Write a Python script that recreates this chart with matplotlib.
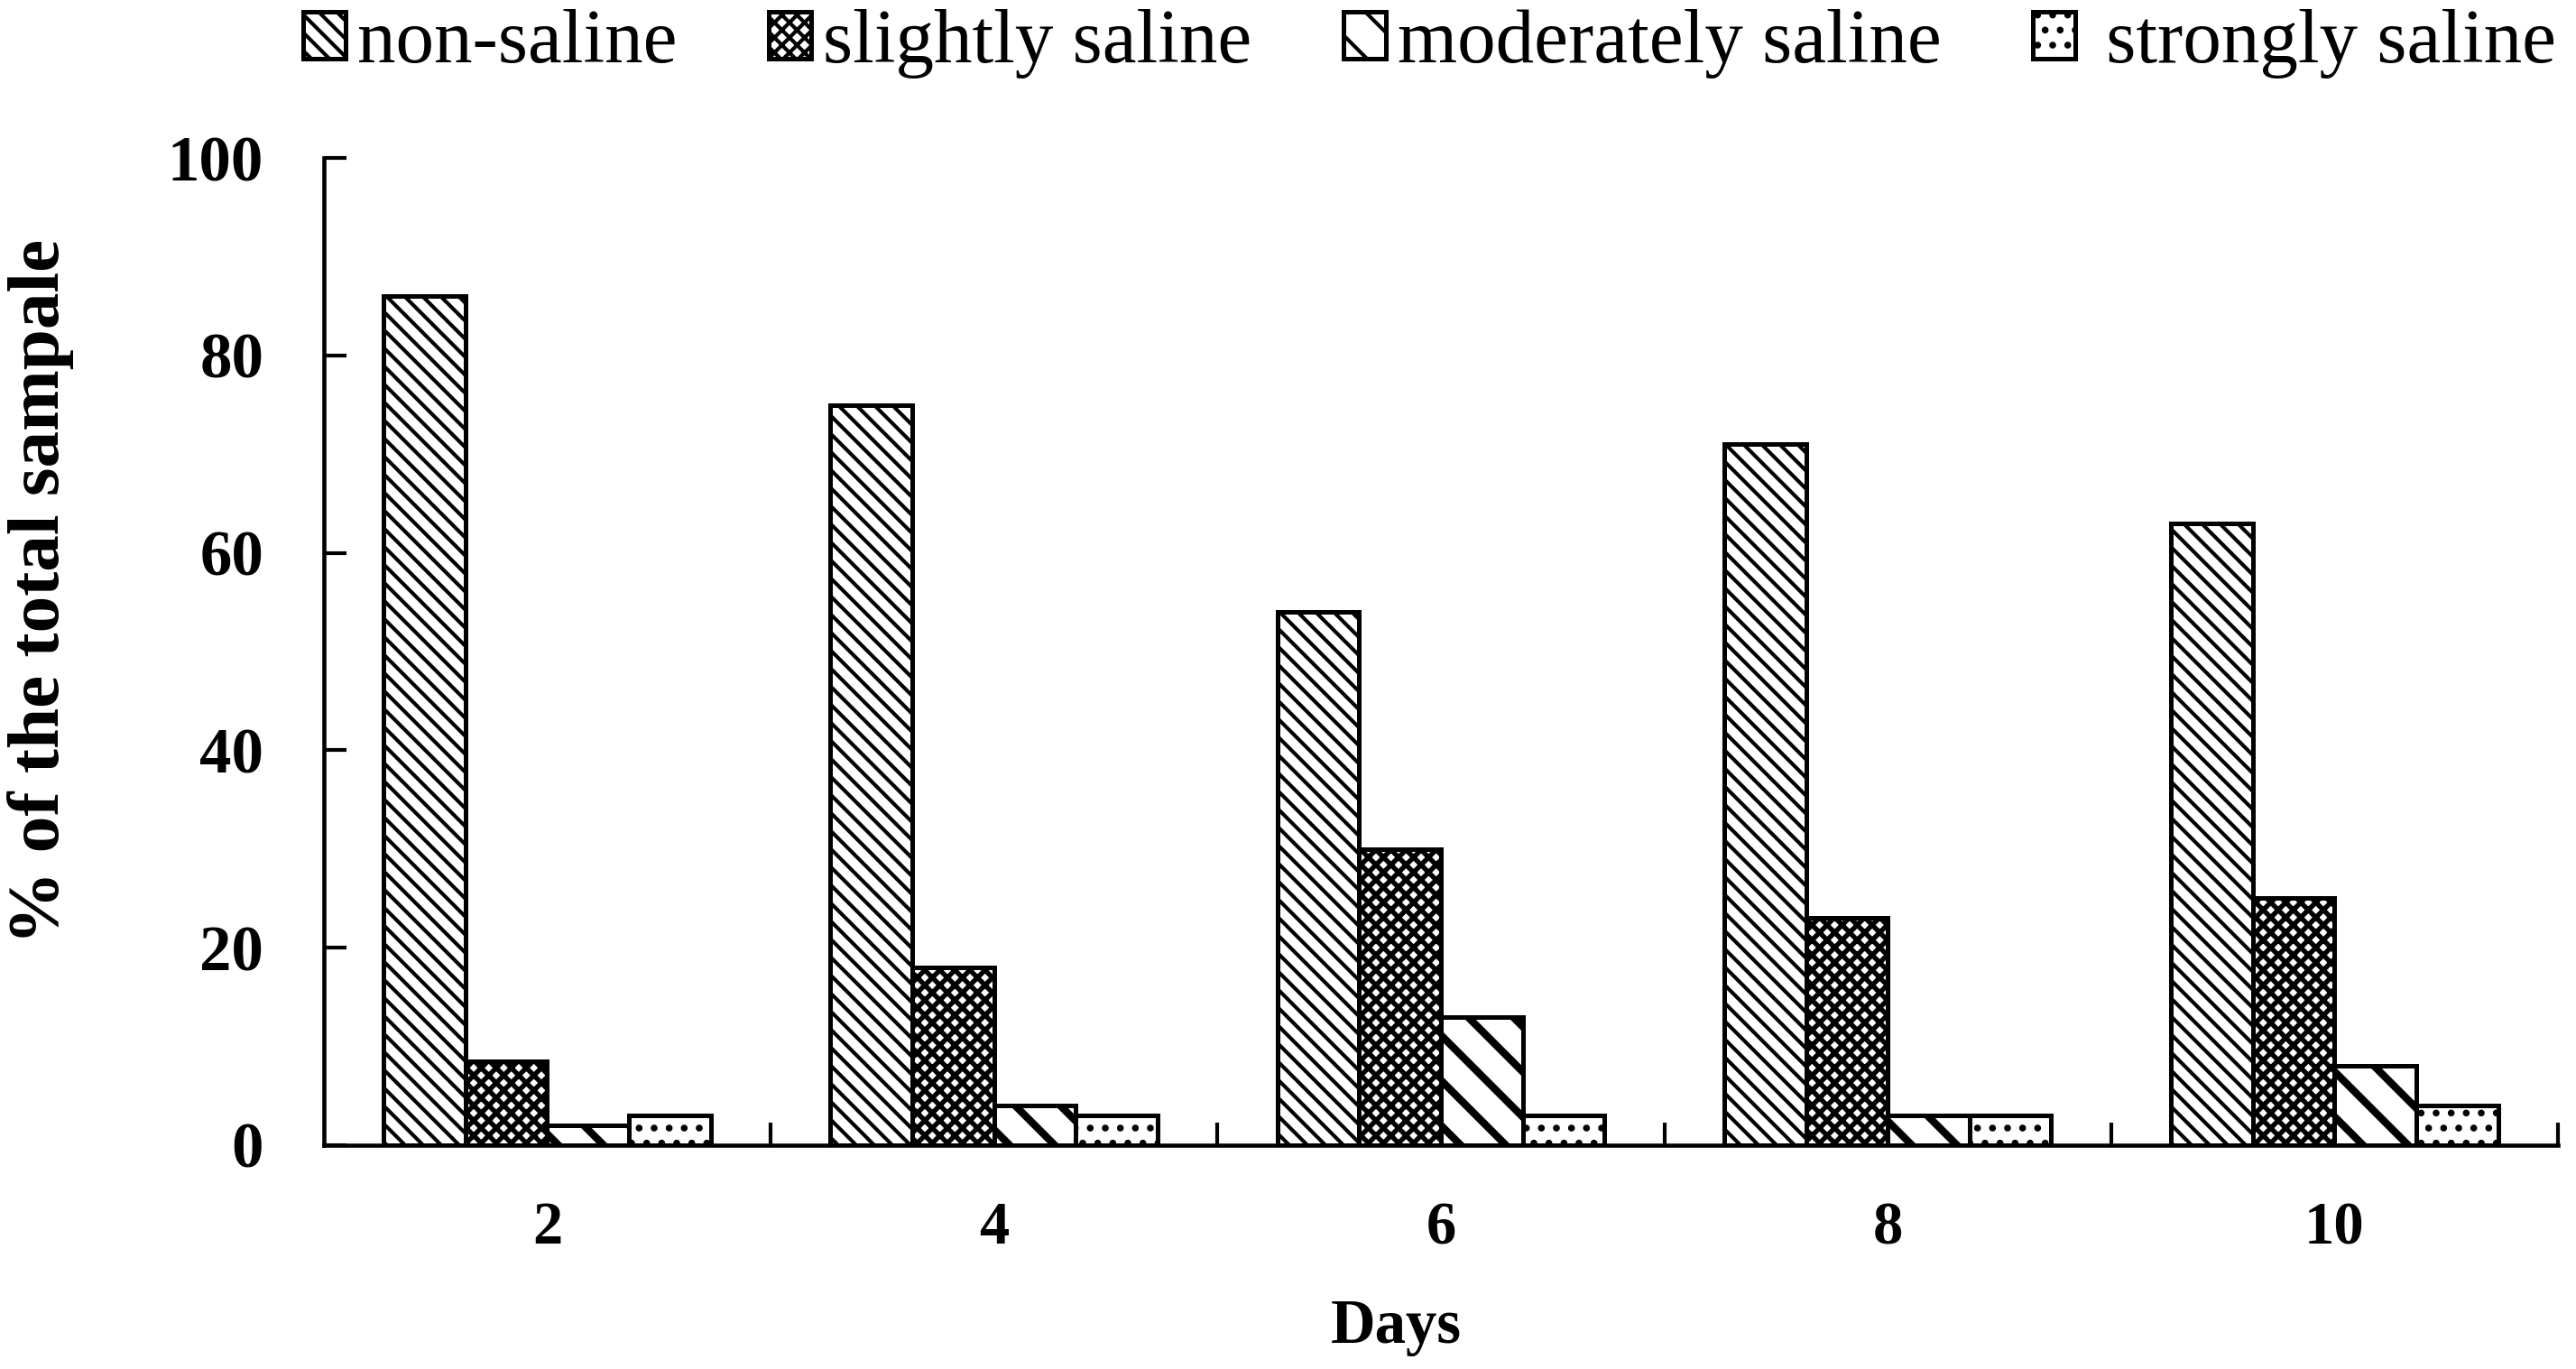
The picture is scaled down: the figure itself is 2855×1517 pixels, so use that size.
import matplotlib
matplotlib.use("Agg")
import matplotlib.pyplot as plt
import numpy as np

days = ["2", "4", "6", "8", "10"]
labels = ["non-saline", "slightly saline", "moderately saline", " strongly saline"]
non_saline = [86, 75, 54, 71, 63]
slightly = [8.5, 18, 30, 23, 25]
moderately = [2, 4, 13, 3, 8]
strongly = [3, 3, 3, 3, 4]

plt.rcParams['font.family'] = ['Liberation Serif', 'DejaVu Serif']
plt.rcParams['hatch.color'] = 'black'

fig = plt.figure(figsize=(2855 / 300, 1517 / 300), dpi=300)
ax = fig.add_axes([0.1257, 0.1635, 0.993 - 0.1257, 0.8846 - 0.1635])

x = np.arange(len(days))
w = 0.183
series = [non_saline, slightly, moderately, strongly]
hatches = ['\\' * 5, 'x' * 6, '\\' * 2, '...']
hlw = [1.0, 1.3, 2.0, 1.0]
handles = []
for i, vals in enumerate(series):
    plt.rcParams['hatch.linewidth'] = hlw[i]
    bars = ax.bar(x + (i - 1.5) * w, vals, w, color='white', edgecolor='black',
                  linewidth=1.2, hatch=hatches[i], label=labels[i])
    for b in bars:
        if hasattr(b, 'set_hatch_linewidth'):
            b.set_hatch_linewidth(hlw[i])
    handles.append(bars)

ax.set_xlim(-0.5, 4.5)
ax.set_ylim(0, 100)
ax.set_yticks(range(0, 101, 20))
ax.set_xticks(x)
ax.set_xticklabels(days, fontweight='bold', fontsize=16)
ax.set_xticks(np.arange(0.5, 5, 1), minor=True)
ax.tick_params(axis='x', which='major', length=0, pad=15)
ax.tick_params(axis='x', which='minor', direction='in', length=6, width=1.0)
ax.tick_params(axis='y', direction='in', length=6, width=1.0, pad=16, labelsize=17)
for t in ax.get_yticklabels():
    t.set_fontweight('bold')

for s in ['top', 'right']:
    ax.spines[s].set_visible(False)
for s in ['left', 'bottom']:
    ax.spines[s].set_linewidth(1.1)

ax.set_xlabel('Days', fontweight='bold', fontsize=16.5)
ax.xaxis.set_label_coords(0.480, -0.155)
ax.set_ylabel('% of the total sampale', fontweight='bold', fontsize=19.5)
ax.yaxis.set_label_coords(-0.112, 0.561)

fig.legend(handles=handles, labels=labels, loc='center', bbox_to_anchor=(0.555, 0.968),
           ncol=4, frameon=False, fontsize=20.4, handlelength=0.55, handleheight=0.55,
           handletextpad=0.15, columnspacing=1.2, borderaxespad=0)

fig.savefig('out.png', dpi=300)
